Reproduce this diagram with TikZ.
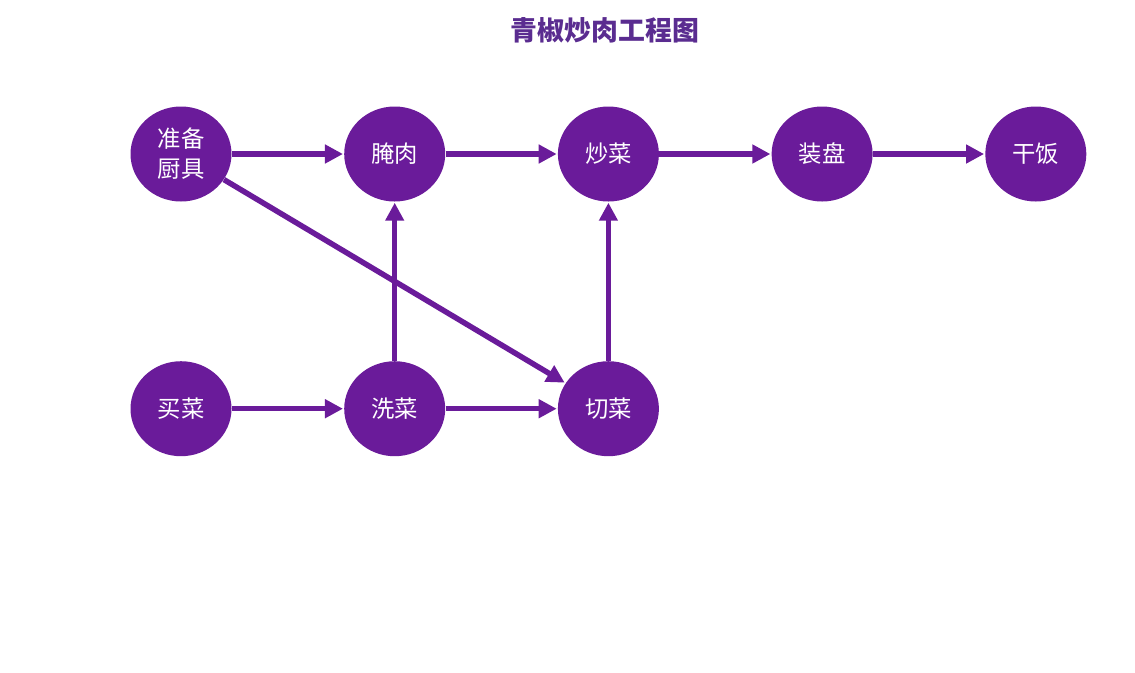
\documentclass[tikz,border=0pt]{standalone}
\usepackage{fontspec}
\setmainfont{Noto Sans CJK SC}
\usetikzlibrary{arrows.meta,positioning,shapes.geometric}
\definecolor{cstep}{HTML}{6A1B9A}
\definecolor{ctitle}{HTML}{5A2C90}
\tikzset{
  task/.style={ellipse, fill=cstep, text=white, align=center, inner sep=0pt,
               minimum width=20.2mm, minimum height=19mm,
               font=\fontsize{13.3}{17}\selectfont},
  flow/.style={-{Triangle[length=3.6mm,width=3.6mm]}, draw=cstep,
               line width=1.1mm, shorten >=0.5pt},
}
\begin{document}
\begin{tikzpicture}[node distance=31.8mm and 22.4mm]
  \useasboundingbox (0,0) rectangle (22.7,-13.44);
  \node[font=\fontsize{15.3}{18}\selectfont\bfseries, text=ctitle] (title) at (12.1,-0.6) {青椒炒肉工程图};
  \node[task] (prep) at (3.62,-3.08) {准备\\厨具};
  \node[task, right=of prep] (marinate) {腌肉};
  \node[task, right=of marinate] (fry) {炒菜};
  \node[task, right=of fry] (plate) {装盘};
  \node[task, right=of plate] (eat) {干饭};
  \node[task, below=of prep] (buy) {买菜};
  \node[task, below=of marinate] (wash) {洗菜};
  \node[task, below=of fry] (cut) {切菜};
  \draw[flow] (prep) -- (marinate);
  \draw[flow] (marinate) -- (fry);
  \draw[flow] (fry) -- (plate);
  \draw[flow] (plate) -- (eat);
  \draw[flow] (buy) -- (wash);
  \draw[flow] (wash) -- (cut);
  \draw[flow] (wash) -- (marinate);
  \draw[flow] (cut) -- (fry);
  \draw[flow] (prep) -- (cut);
\end{tikzpicture}
\end{document}
